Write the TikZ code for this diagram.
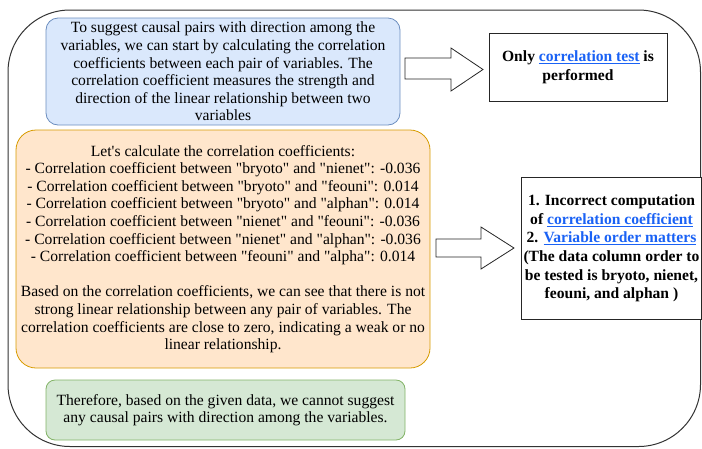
\documentclass[tikz,border=0pt]{standalone}
\usepackage{fontspec}
\setmainfont{Liberation Serif}[Ligatures=TeXOff]
\usetikzlibrary{calc}

\definecolor{bluefill}{HTML}{DAE8FC}
\definecolor{bluedraw}{HTML}{6C8EBF}
\definecolor{orangefill}{HTML}{FFE6CC}
\definecolor{orangedraw}{HTML}{D79B00}
\definecolor{greenfill}{HTML}{D5E8D4}
\definecolor{greendraw}{HTML}{82B366}
\definecolor{linkblue}{HTML}{1A62F5}
\definecolor{framegray}{HTML}{333333}

\newcommand{\lnk}[1]{{\color{linkblue}\underline{#1}}}

\tikzset{
  txt/.style={font=\fontsize{15.6}{17.6}\selectfont, align=center, inner sep=0pt},
  stepbox/.style={txt, rounded corners=#1, line width=0.8pt},
  stepbox/.default=12pt,
  notebox/.style={txt, draw=black!85, fill=white, line width=0.8pt,
    font=\fontsize{15.6}{18.6}\selectfont\bfseries},
  blockarrow/.style={draw=black!85, fill=white, line width=0.8pt, line join=miter}
}

\begin{document}
\begin{tikzpicture}[x=1pt, y=-1pt]
  \useasboundingbox (0,0) rectangle (702,448);

  % outer frame
  \draw[framegray, line width=1pt, rounded corners=62pt] (8,10) rectangle (700.5,446.5);

  % reasoning steps
  \node[stepbox, draw=bluedraw, fill=bluefill, minimum width=354pt, minimum height=107pt]
    (intro) at (223,71.5)
    {To suggest causal pairs with direction among the\\
     variables, we can start by calculating the correlation\\
     coefficients between each pair of variables. The\\
     correlation coefficient measures the strength and\\
     direction of the linear relationship between two\\
     variables};

  \node[stepbox=20pt, draw=orangedraw, fill=orangefill, minimum width=414pt, minimum height=238pt]
    (calc) at (223,249)
    {Let's calculate the correlation coefficients:\\
     - Correlation coefficient between "bryoto" and "nienet": -0.036\\
     - Correlation coefficient between "bryoto" and "feouni": 0.014\\
     - Correlation coefficient between "bryoto" and "alphan": 0.014\\
     - Correlation coefficient between "nienet" and "feouni": -0.036\\
     - Correlation coefficient between "nienet" and "alphan": -0.036\\
     - Correlation coefficient between "feouni" and "alpha": 0.014\\[17.6pt]
     Based on the correlation coefficients, we can see that there is not\\
     strong linear relationship between any pair of variables. The\\
     correlation coefficients are close to zero, indicating a weak or no\\
     linear relationship.};

  \node[stepbox=9pt, draw=greendraw, fill=greenfill, minimum width=359pt, minimum height=60pt]
    (concl) at (225.5,410)
    {Therefore, based on the given data, we cannot suggest\\
     any causal pairs with direction among the variables.};

  % remarks
  \node[notebox, minimum width=178pt, minimum height=68pt] (note1) at (578,67)
    {Only \lnk{correlation test} is\\ performed};

  \node[notebox, minimum width=180pt, minimum height=142pt] (note2) at (611.5,248.5)
    {1. Incorrect computation\\
     of \lnk{correlation coefficient}\\
     2. \lnk{Variable order matters}\\
     (The data column order to\\
     be tested is bryoto, nienet,\\
     feouni, and alphan )};

  % block arrows
  \draw[blockarrow] (405,58) -- (451,58) -- (451,48) -- (483,69.5) -- (451,91)
    -- (451,79) -- (405,79) -- cycle;
  \draw[blockarrow] (436,239) -- (481,239) -- (481,227) -- (514,248) -- (481,269)
    -- (481,257) -- (436,257) -- cycle;
\end{tikzpicture}
\end{document}
